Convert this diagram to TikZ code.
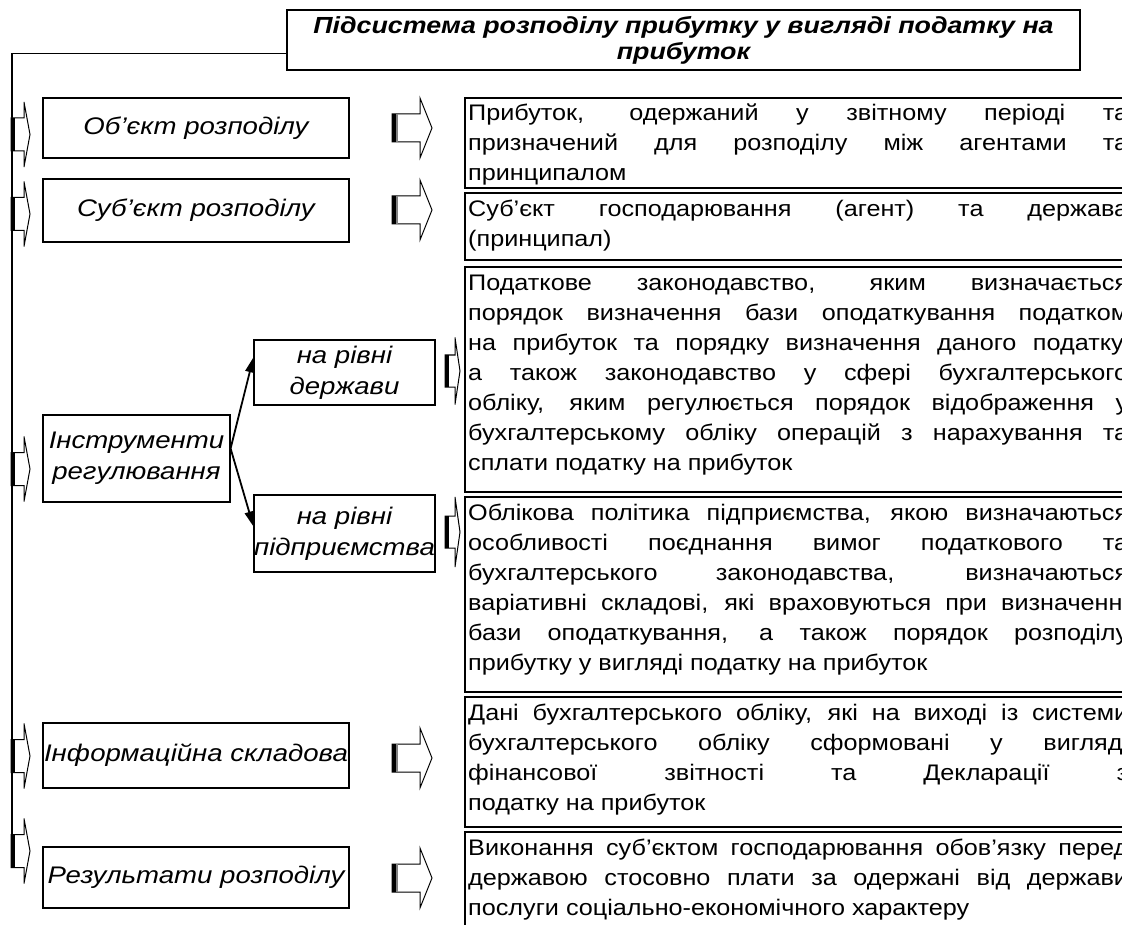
\documentclass[tikz,border=0pt]{standalone}
\usepackage{fontspec}
\setmainfont{Liberation Sans}
\newfontfamily\boxfont{Liberation Sans}[FakeStretch=1.15]
\newfontfamily\bodyfont{Liberation Sans}[FakeStretch=1.12]
\usetikzlibrary{arrows.meta,positioning,calc}
\newcommand{\blockarr}[7]{%
  \draw[line width=1pt,fill=white] (#1,#4-#5) -- (#2,#4-#5) -- (#2,#4-#6) -- (#3,#4) -- (#2,#4+#6) -- (#2,#4+#5) -- (#1,#4+#5) -- cycle;
  \fill (#1,#4-#5) rectangle (#1+#7,#4+#5);}

\begin{document}
\begin{tikzpicture}[x=1pt,y=-1pt,
    frame/.style={line width=1.2pt},
    lab/.style={draw,frame,inner sep=0pt,align=center,font={\boxfont\itshape\fontsize{24}{31}\selectfont}},
    headbox/.style={lab,font={\boxfont\bfseries\itshape\fontsize{23.3}{26}\selectfont}},
    txt/.style={anchor=base west,inner sep=0pt,text width=660pt,align=justify,font={\bodyfont\fontsize{22.5}{30}\selectfont}},
    link/.style={line width=1.8pt,-{Triangle[length=15pt,width=9pt]}}]
  \useasboundingbox (0,0) rectangle (1122,925);
  \clip (0,0) rectangle (1122,925);

  \node[headbox,minimum width=793pt,minimum height=60pt] (title) at (683.5,40) {Підсистема розподілу прибутку у вигляді податку на\\прибуток};
  \coordinate (bus) at (12,868);
  \draw[frame] ($(title.south west)+(0,-17)$) -| (bus);

  \node[lab,minimum width=306pt,minimum height=60pt] (obj) at (196,128) {Об’єкт розподілу};
  \node[lab,minimum width=306pt,minimum height=63pt] (subj) at (196,210.5) {Суб’єкт розподілу};
  \node[lab,minimum width=187pt,minimum height=87pt] (tools) at (136.5,458.5) {Інструменти\\регулювання};
  \node[lab,minimum width=181pt,minimum height=65pt] (state) at (344.5,372.5) {на рівні\\держави};
  \node[lab,minimum width=181pt,minimum height=77pt] (firm) at (344.5,533.5) {на рівні\\підприємства};
  \node[lab,minimum width=306pt,minimum height=65pt] (info) at (196,755.5) {Інформаційна складова};
  \node[lab,minimum width=306pt,minimum height=61pt] (result) at (196,877.5) {Результати розподілу};

  \coordinate (fork) at ($(tools.east)+(0,-10)$);
  \draw[link] (fork) -- ($(state.north west)+(0,18)$);
  \draw[link] (fork) -- ($(firm.north west)+(0,32)$);

  \foreach \y in {134.5,214,469,756,851}
    \blockarr{11}{24}{30}{\y}{16.5}{32.5}{4};
  \foreach \y in {128,210,758,878}{
    \blockarr{392}{420}{432}{\y}{14}{30}{4}
    \draw[gray,line width=2pt] (397,\y-14) -- (397,\y+14);}
  \blockarr{445}{455}{460}{371}{16}{33.5}{4}
  \blockarr{445}{455}{460}{532}{16}{35}{4}

  \draw[frame] (465,98) rectangle (1140,188);
  \draw[frame] (465,193) rectangle (1140,260);
  \draw[frame] (465,267) rectangle (1140,492);
  \draw[frame] (465,497) rectangle (1140,692);
  \draw[frame] (465,697) rectangle (1140,827);
  \draw[frame] (465,832) rectangle (1140,940);

  \node[txt] (objtxt) at (468,121) {Прибуток, одержаний у звітному періоді та\linebreak призначений для розподілу між агентами та\linebreak принципалом};
  \node[txt] (subjtxt) at (468,217) {Суб’єкт господарювання (агент) та держава\linebreak (принципал)};
  \node[txt] (statetxt) at (468,291) {Податкове законодавство, яким визначається\linebreak порядок визначення бази оподаткування податком\linebreak на прибуток та порядку визначення даного податку,\linebreak а також законодавство у сфері бухгалтерського\linebreak обліку, яким регулюється порядок відображення у\linebreak бухгалтерському обліку операцій з нарахування та\linebreak сплати податку на прибуток};
  \node[txt] (firmtxt) at (468,520) {Облікова політика підприємства, якою визначаються\linebreak особливості поєднання вимог податкового та\linebreak бухгалтерського законодавства, визначаються\linebreak варіативні складові, які враховуються при визначенні\linebreak бази оподаткування, а також порядок розподілу\linebreak прибутку у вигляді податку на прибуток};
  \node[txt] (infotxt) at (468,720) {Дані бухгалтерського обліку, які на виході із системи\linebreak бухгалтерського обліку сформовані у вигляді\linebreak фінансової звітності та Декларації з\linebreak податку на прибуток};
  \node[txt] (resulttxt) at (468,855) {Виконання суб’єктом господарювання обов’язку перед\linebreak державою стосовно плати за одержані від держави\linebreak послуги соціально-економічного характеру};
\end{tikzpicture}
\end{document}
